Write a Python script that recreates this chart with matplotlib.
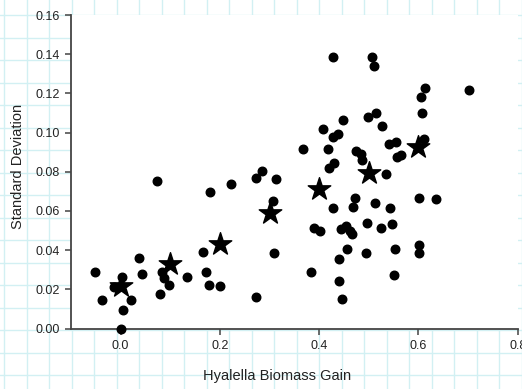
import numpy as np
import matplotlib.pyplot as plt

plt.rcParams['font.family'] = ['Liberation Sans', 'DejaVu Sans']

# Individual replicates: biomass gain vs standard deviation
gain = [-0.052, -0.038, 0.002, -0.014, 0.021, 0.005, 0.001, 0.037, 0.044, 0.079,
        0.084, 0.088, 0.098, 0.133, 0.166, 0.171, 0.178, 0.201, 0.273, 0.074,
        0.181, 0.223, 0.272, 0.284, 0.313, 0.307, 0.310, 0.368, 0.383, 0.389,
        0.402, 0.408, 0.418, 0.420, 0.427, 0.437, 0.428, 0.429, 0.427, 0.439,
        0.439, 0.446, 0.443, 0.455, 0.462, 0.467, 0.457, 0.448, 0.472, 0.469,
        0.475, 0.485, 0.486, 0.494, 0.497, 0.498, 0.507, 0.510, 0.513, 0.514,
        0.524, 0.527, 0.535, 0.540, 0.542, 0.547, 0.550, 0.553, 0.555, 0.557,
        0.565, 0.602, 0.635, 0.602, 0.602, 0.607, 0.606, 0.614, 0.612, 0.701]
sd = [0.0287, 0.0144, 0.0264, 0.0212, 0.0144, 0.0093, 0.0000, 0.0358, 0.0276, 0.0175,
      0.0288, 0.0256, 0.0222, 0.0264, 0.0392, 0.0290, 0.0222, 0.0217, 0.0162, 0.0754,
      0.0698, 0.0736, 0.0770, 0.0805, 0.0761, 0.0653, 0.0383, 0.0915, 0.0290, 0.0511,
      0.0498, 0.1017, 0.0915, 0.0819, 0.0979, 0.0994, 0.1386, 0.0846, 0.0617, 0.0355,
      0.0244, 0.0153, 0.0507, 0.0521, 0.0500, 0.0481, 0.0404, 0.1063, 0.0666, 0.0622,
      0.0905, 0.0889, 0.0860, 0.0387, 0.0537, 0.1080, 0.1387, 0.1340, 0.0642, 0.1102,
      0.0511, 0.1035, 0.0787, 0.0940, 0.0617, 0.0532, 0.0273, 0.0404, 0.0951, 0.0874,
      0.0884, 0.0668, 0.0661, 0.0426, 0.0387, 0.1099, 0.1182, 0.1229, 0.0966, 0.1216]

# Group means
mean_gain = [0.0, 0.1, 0.2, 0.3, 0.4, 0.5, 0.6]
mean_sd = [0.0219, 0.0329, 0.0430, 0.0588, 0.0711, 0.0795, 0.0925]

xticks = [0.0, 0.2, 0.4, 0.6, 0.8]
yticks = [0.00, 0.02, 0.04, 0.06, 0.08, 0.10, 0.12, 0.14, 0.16]

W, H = 522, 389
fig = plt.figure(figsize=(W / 100, H / 100), dpi=100)

# graph-paper background behind the plot
bg = fig.add_axes([0, 0, 1, 1], zorder=0)
bg.set_xlim(0, W)
bg.set_ylim(H, 0)
for gx in np.arange(4.2, W, 22.5):
    bg.axvline(gx, color='#d2f0f3', lw=1)
for gy in np.arange(15, H, 22.5):
    bg.axhline(gy, color='#d2f0f3', lw=1)
bg.axis('off')

ax = fig.add_axes([71 / W, 1 - 328.5 / H, (517.7 - 71) / W, (328.5 - 15) / H], zorder=1)
ax.set_facecolor('white')

ax.scatter(gain, sd, s=38, color='black', zorder=3, clip_on=False)
ax.scatter(mean_gain, mean_sd, s=290, marker='*', color='black', zorder=4, clip_on=False)

ax.set_xlim(-0.1, 0.8)
ax.set_ylim(0, 0.16)
ax.set_xticks(xticks)
ax.set_xticklabels(['%.1f' % v for v in xticks])
ax.set_yticks(yticks)
ax.set_yticklabels(['%.2f' % v for v in yticks])

for side in ['top', 'right']:
    ax.spines[side].set_visible(False)
for side in ['left', 'bottom']:
    ax.spines[side].set_color('#444444')
    ax.spines[side].set_linewidth(1.3)

ax.tick_params(length=4, width=1.1, color='#444444', labelsize=9, labelcolor='#222222', pad=4)

fig.text(277.5 / W, 1 - 376 / H, 'Hyalella Biomass Gain', ha='center', va='center',
         fontsize=10.5, color='#222222')
fig.text(18 / W, 1 - 166 / H, 'Standard Deviation', ha='center', va='center',
         rotation=90, fontsize=10.5, color='#222222')

fig.savefig('out.png', dpi=100)
